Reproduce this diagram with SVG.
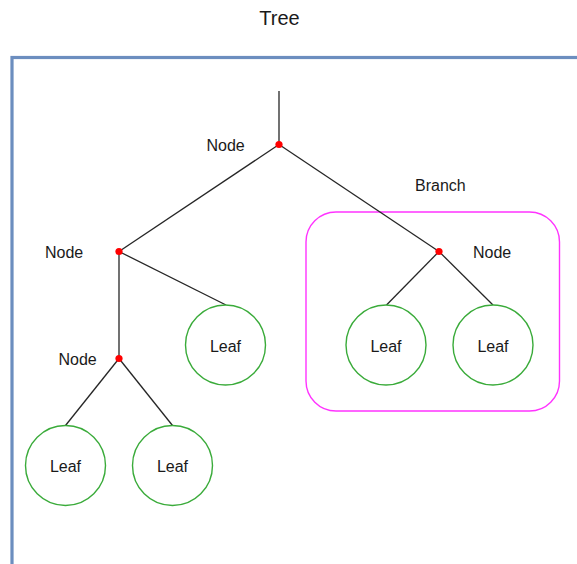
<svg xmlns="http://www.w3.org/2000/svg" width="577" height="564" viewBox="0 0 577 564">
  <style>
    .label { font-family: "Liberation Sans", Arial, sans-serif; font-size: 16px; fill: #1a1a1a; }
    .title { font-family: "Liberation Sans", Arial, sans-serif; font-size: 20px; fill: #1a1a1a; text-anchor: middle; }
    .leaf circle { fill: #ffffff; stroke: #3aab3a; stroke-width: 1.4; }
    .leaf text { text-anchor: middle; }
    .edge { stroke: #262626; stroke-width: 1.3; fill: none; }
    .joint { fill: #ff0000; }
  </style>
  <rect width="577" height="564" fill="#ffffff"/>

  <text class="title" x="279.5" y="25">Tree</text>

  <!-- outer frame -->
  <rect id="frame" x="12" y="57.5" width="620" height="540" fill="none" stroke="#6c8ebf" stroke-width="3.2"/>

  <!-- highlighted sub-tree -->
  <g id="branch">
    <rect x="306" y="212" width="253.5" height="199" rx="30" ry="30" fill="none" stroke="#ff33ff" stroke-width="1.4"/>
    <text class="label" x="415" y="191">Branch</text>
  </g>

  <!-- connectors -->
  <g id="connectors">
    <line class="edge" x1="279" y1="91" x2="279" y2="144.5"/>
    <line class="edge" x1="279" y1="144.5" x2="119" y2="251.5"/>
    <line class="edge" x1="279" y1="144.5" x2="439" y2="251.5"/>
    <line class="edge" x1="119" y1="251.5" x2="226" y2="305"/>
    <line class="edge" x1="119" y1="251.5" x2="119" y2="358.5"/>
    <line class="edge" x1="119" y1="358.5" x2="65.5" y2="425.5"/>
    <line class="edge" x1="119" y1="358.5" x2="172.5" y2="425.5"/>
    <line class="edge" x1="439" y1="251.5" x2="386.5" y2="305"/>
    <line class="edge" x1="439" y1="251.5" x2="493" y2="305"/>
  </g>

  <!-- inner nodes -->
  <g id="node-root">
    <circle class="joint" cx="279" cy="144.5" r="3.6"/>
    <text class="label" x="206.5" y="151">Node</text>
  </g>
  <g id="node-left">
    <circle class="joint" cx="119" cy="251.5" r="3.6"/>
    <text class="label" x="45" y="257.5">Node</text>
  </g>
  <g id="node-lower">
    <circle class="joint" cx="119" cy="358.5" r="3.6"/>
    <text class="label" x="58.5" y="364.5">Node</text>
  </g>
  <g id="node-right">
    <circle class="joint" cx="439" cy="251.5" r="3.6"/>
    <text class="label" x="473" y="257.5">Node</text>
  </g>

  <!-- leaves -->
  <g id="leaf-1" class="leaf">
    <circle cx="225.5" cy="345" r="40"/>
    <text class="label" x="225.5" y="351.5">Leaf</text>
  </g>
  <g id="leaf-2" class="leaf">
    <circle cx="386" cy="345" r="40"/>
    <text class="label" x="386" y="351.5">Leaf</text>
  </g>
  <g id="leaf-3" class="leaf">
    <circle cx="493" cy="345" r="40"/>
    <text class="label" x="493" y="351.5">Leaf</text>
  </g>
  <g id="leaf-4" class="leaf">
    <circle cx="65.5" cy="465.5" r="40"/>
    <text class="label" x="65.5" y="472">Leaf</text>
  </g>
  <g id="leaf-5" class="leaf">
    <circle cx="172.5" cy="465.5" r="40"/>
    <text class="label" x="172.5" y="472">Leaf</text>
  </g>
</svg>
